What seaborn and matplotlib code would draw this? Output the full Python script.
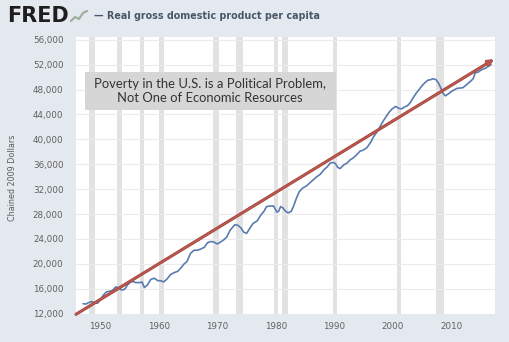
import matplotlib
matplotlib.use("Agg")
import matplotlib.pyplot as plt
import matplotlib.patheffects as pe
from matplotlib.patches import Rectangle
from matplotlib.lines import Line2D
import seaborn as sns
import pandas as pd

# ---- data ----
years = [1947.0, 1947.5, 1948.0, 1948.5, 1949.0, 1949.5, 1950.0, 1950.5, 1951.0, 1951.5,
         1952.0, 1952.6, 1953.0, 1953.4, 1953.8, 1954.2, 1954.6, 1955.0, 1955.5, 1956.0,
         1956.8, 1957.1, 1957.5, 1958.0, 1958.6, 1959.2, 1959.8, 1960.3, 1960.8, 1961.3,
         1962.0, 1962.6, 1963.2, 1963.8, 1964.2, 1964.8, 1965.4, 1966.0, 1966.6, 1967.2,
         1967.8, 1968.3, 1968.9, 1969.4, 1970.0, 1970.5, 1971.0, 1971.6, 1972.1, 1972.6,
         1973.0, 1973.5, 1974.0, 1974.5, 1975.0, 1975.6, 1976.1, 1976.8, 1977.4, 1978.0,
         1978.4, 1979.0, 1979.6, 1980.2, 1980.5, 1980.8, 1981.2, 1981.6, 1982.1, 1982.6,
         1983.0, 1983.5, 1984.0, 1984.6, 1985.2, 1985.9, 1986.5, 1987.0, 1987.6, 1988.2,
         1988.8, 1989.3, 1989.8, 1990.2, 1990.6, 1991.0, 1991.6, 1992.2, 1992.7, 1993.2,
         1993.8, 1994.4, 1995.0, 1995.6, 1996.2, 1996.7, 1997.3, 1997.8, 1998.4, 1998.9,
         1999.4, 1999.9, 2000.5, 2001.0, 2001.5, 2002.0, 2002.5, 2003.0, 2003.5, 2004.0,
         2004.5, 2005.0, 2005.5, 2006.0, 2006.5, 2006.9, 2007.4, 2007.8, 2008.2, 2008.6,
         2009.0, 2009.5, 2010.2, 2010.6, 2011.0, 2011.5, 2012.0, 2012.5, 2012.9, 2013.4,
         2013.8, 2014.1, 2014.6, 2015.2, 2015.8, 2016.3, 2016.8]
gdp_per_capita = [13600, 13550, 13800, 13950, 13700, 13700, 14300, 15000, 15500, 15600,
                  15700, 16300, 16200, 15900, 15800, 16000, 16600, 17000, 17200, 17000,
                  17000, 17100, 16200, 16600, 17500, 17700, 17300, 17300, 17100, 17500,
                  18300, 18600, 18800, 19400, 19900, 20400, 21700, 22200, 22200, 22400,
                  22700, 23400, 23600, 23500, 23200, 23500, 23800, 24300, 25300, 25900,
                  26300, 26200, 25800, 25100, 24900, 25800, 26500, 26900, 27800, 28500,
                  29200, 29300, 29300, 28300, 28500, 29200, 29000, 28500, 28200, 28400,
                  29200, 30500, 31600, 32200, 32500, 33100, 33600, 34000, 34400, 35100,
                  35600, 36200, 36300, 36100, 35500, 35300, 35900, 36200, 36700, 37000,
                  37500, 38100, 38300, 38700, 39500, 40400, 41200, 42000, 43000, 43700,
                  44400, 44900, 45300, 45000, 44900, 45200, 45400, 45900, 46700, 47400,
                  48000, 48600, 49100, 49500, 49600, 49750, 49600, 49100, 48300, 47400,
                  47000, 47300, 47800, 48000, 48200, 48250, 48300, 48700, 49000, 49400,
                  49800, 50700, 50800, 51200, 51400, 51700, 52000]

recession_starts = [1948.1, 1952.9, 1956.8, 1960.0, 1969.3, 1973.2, 1979.6, 1981.1, 1989.8, 2000.8, 2007.4]
recession_ends   = [1949.0, 1953.6, 1957.5, 1960.9, 1970.2, 1974.4, 1980.3, 1982.1, 1990.5, 2001.4, 2008.8]

trend_years = [1945.8, 2017.2]
trend_values = [11900, 52800]

y_ticks = [12000, 16000, 20000, 24000, 28000, 32000, 36000, 40000, 44000, 48000, 52000, 56000]
x_ticks = [1950, 1960, 1970, 1980, 1990, 2000, 2010]

title_text = "— Real gross domestic product per capita"
y_label = "Chained 2009 Dollars"
note_lines = "Poverty in the U.S. is a Political Problem,\nNot One of Economic Resources"

# ---- style ----
sns.set_style("white")
plt.rcParams['font.family'] = ['DejaVu Sans']

BG = "#e4e9f0"
W, H = 510, 342
fig = plt.figure(figsize=(W / 100, H / 100), dpi=100, facecolor=BG)

L, R, T, B = 76, 495, 37, 314
ax = fig.add_axes([L / W, 1 - B / H, (R - L) / W, (B - T) / H])
ax.set_facecolor("white")

df = pd.DataFrame({"year": years, "value": gdp_per_capita})

for s, e in zip(recession_starts, recession_ends):
    ax.axvspan(s, e, color="#e2e2e2", lw=0, zorder=0)

for yt in y_ticks:
    ax.axhline(yt, color="#ececec", lw=0.8, zorder=0.5)

sns.lineplot(data=df, x="year", y="value", ax=ax, color="#5a7bb0", lw=1.2, zorder=3)

ax.annotate("", xy=(trend_years[1], trend_values[1]), xytext=(trend_years[0], trend_values[0]),
            arrowprops=dict(arrowstyle="-|>", color="#b9564d", lw=1.5, mutation_scale=8,
                            shrinkA=0, shrinkB=0,
                            path_effects=[pe.Stroke(linewidth=2.2, foreground="#9a4038"), pe.Normal()]),
            zorder=4)

ax.set_xlim(1945.8, 2017.5)
ax.set_ylim(11950, 56450)
ax.set_yticks(y_ticks)
ax.set_yticklabels([f"{v:,}" for v in y_ticks])
ax.set_xticks(x_ticks)
ax.set_xticklabels([str(v) for v in x_ticks])
ax.tick_params(axis="both", length=0, labelsize=6.3, labelcolor="#606060")
ax.tick_params(axis="y", pad=9)
ax.tick_params(axis="x", pad=6)
ax.set_xlabel("")
ax.set_ylabel("")
for sp in ax.spines.values():
    sp.set_visible(False)

fig.text(13 / W, 1 - 178 / H, y_label, rotation=90, ha="center", va="center",
         fontsize=5.8, color="#5a5a5a")

# header
fig.text(7 / W, 1 - 15.5 / H, "FRED", ha="left", va="center", fontsize=15,
         fontweight="bold", color="#1e1e1e")
icon_x = [71, 75, 79, 83, 87]
icon_y = [21, 17, 19, 13, 11]
fig.add_artist(Line2D([x / W for x in icon_x], [1 - y / H for y in icon_y],
                      color="#9fb09a", lw=1.6, transform=fig.transFigure))
fig.text(94 / W, 1 - 16 / H, title_text, ha="left", va="center", fontsize=6.9,
         fontweight="bold", color="#4a5668")

# annotation box
fig.add_artist(Rectangle((85 / W, 1 - 110 / H), (336 - 85) / W, (110 - 72) / H,
                         transform=fig.transFigure, facecolor="#d6d6d6", edgecolor="none",
                         zorder=5))
fig.text(210 / W, 1 - 91 / H, note_lines, ha="center", va="center", fontsize=9.4,
         family=["Lato", "DejaVu Sans"], color="#333333", linespacing=1.2, zorder=6)

fig.savefig("out.png", dpi=100, facecolor=BG)
